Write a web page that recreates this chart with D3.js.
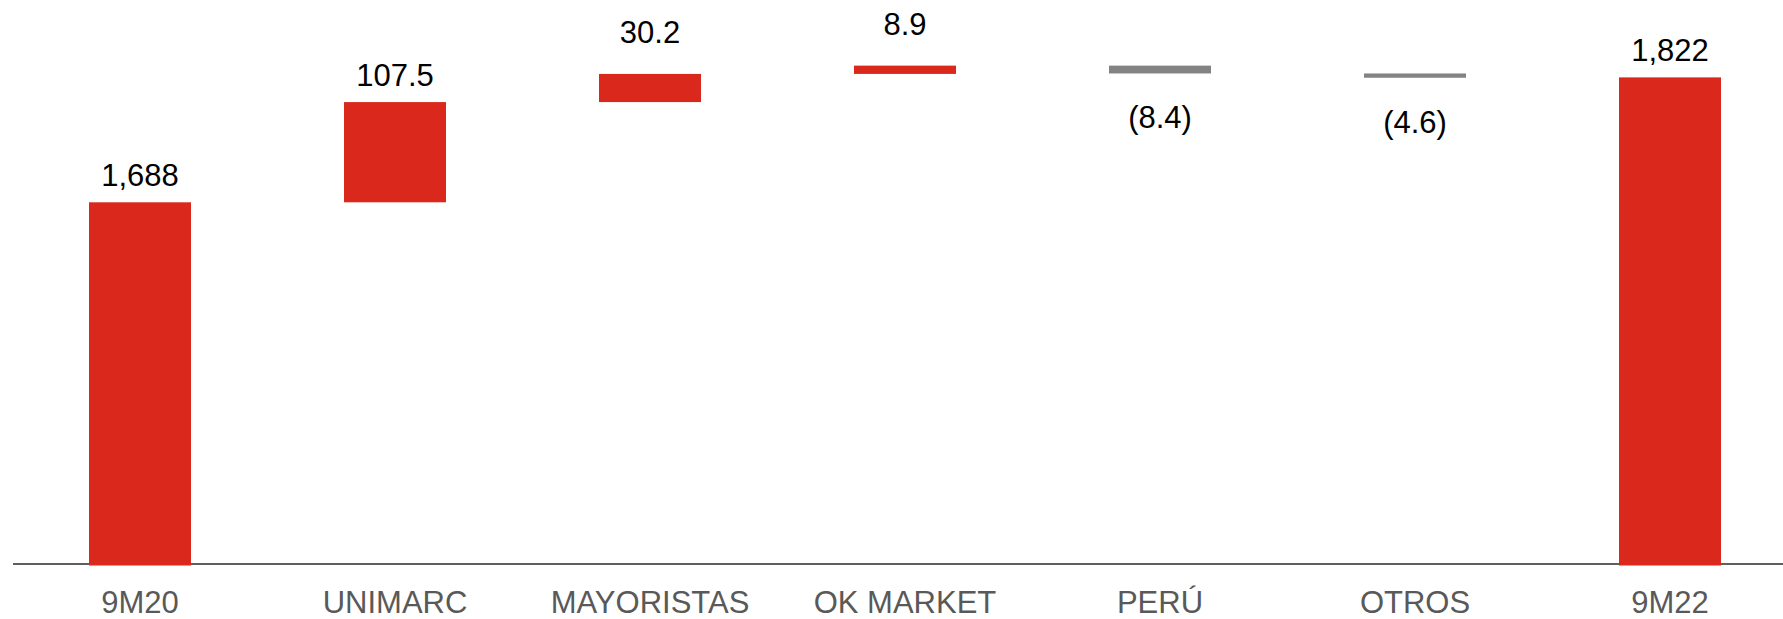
<!DOCTYPE html>
<html>
<head>
<meta charset="utf-8">
<script src="https://cdn.jsdelivr.net/npm/d3@7"></script>
<style>
  html, body { margin: 0; padding: 0; background: #ffffff; }
  svg { display: block; }
</style>
</head>
<body>
<svg id="chart" width="1783" height="619"></svg>
<script>
// ---- data ----
const categories = ["9M20", "UNIMARC", "MAYORISTAS", "OK MARKET", "PERÚ", "OTROS", "9M22"];
const values = [1688, 107.5, 30.2, 8.9, -8.4, -4.6, 1822];
const isTotal = [true, false, false, false, false, false, true];
const valueLabels = ["1,688", "107.5", "30.2", "8.9", "(8.4)", "(4.6)", "1,822"];
const yDomain = [1300, 1905];

// ---- layout ----
const W = 1783, H = 619;
const baseY = 564;
const svg = d3.select("#chart");
const font = "'Liberation Sans', Arial, sans-serif";

const x = d3.scaleBand().domain(categories).range([12.5, 1797.5])
  .paddingInner(0.6).paddingOuter(0.3);
const y = d3.scaleLinear().domain(yDomain).range([baseY, 0]);

// build waterfall segments
let running = 0;
const bars = categories.map((c, i) => {
  let lo, hi;
  if (isTotal[i]) {
    lo = yDomain[0]; hi = values[i]; running = values[i];
  } else {
    const start = running, end = running + values[i];
    lo = Math.min(start, end); hi = Math.max(start, end);
    running = end;
  }
  return { cat: c, v: values[i], lo, hi, total: isTotal[i], label: valueLabels[i] };
});

// axis baseline
svg.append("line")
  .attr("x1", 13).attr("x2", W)
  .attr("y1", y(yDomain[0])).attr("y2", y(yDomain[0]))
  .attr("stroke", "#5f5f5f").attr("stroke-width", 2);

// bars
svg.append("g").selectAll("rect").data(bars).join("rect")
  .attr("x", d => x(d.cat))
  .attr("width", x.bandwidth())
  .attr("y", d => y(d.hi))
  .attr("height", d => (y(d.lo) - y(d.hi)) + (d.total ? 1.5 : 0))
  .attr("fill", d => d.v < 0 ? "#838383" : "#DA291C");

// value labels
svg.append("g").selectAll("text").data(bars).join("text")
  .attr("x", d => x(d.cat) + x.bandwidth() / 2)
  .attr("y", d => {
    const h = y(d.lo) - y(d.hi);
    if (d.v < 0) return y(d.lo) + 55;
    return y(d.hi) - (h < 40 ? 31 : 16);
  })
  .attr("text-anchor", "middle")
  .attr("font-family", font)
  .attr("font-size", 31)
  .attr("fill", "#000000")
  .text(d => d.label);

// x axis labels
const xAxis = d3.axisBottom(x).tickSize(0).tickPadding(27);
const gx = svg.append("g").attr("transform", `translate(0,${baseY})`).call(xAxis);
gx.select(".domain").remove();
gx.selectAll("text")
  .attr("font-family", font)
  .attr("font-size", 31)
  .attr("fill", "#595959");
</script>
</body>
</html>
